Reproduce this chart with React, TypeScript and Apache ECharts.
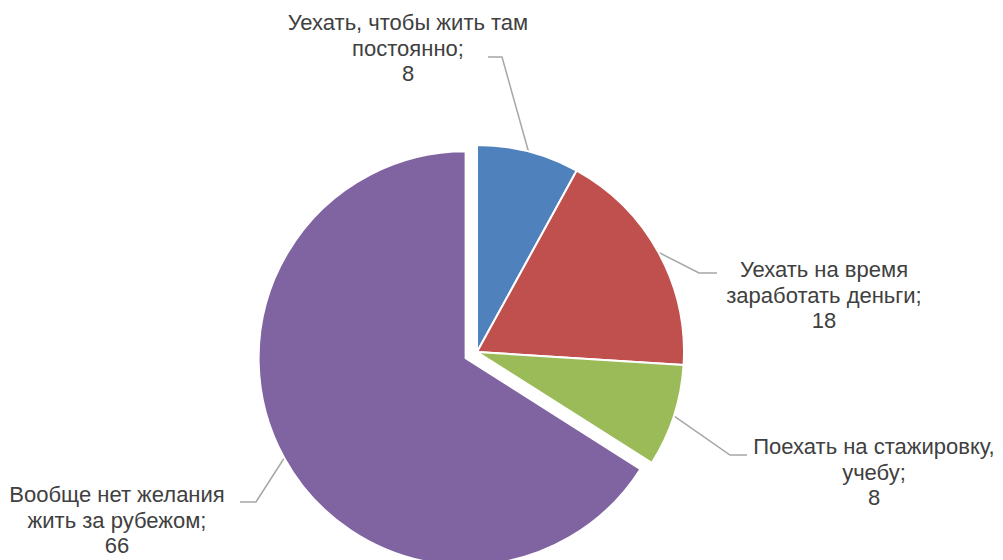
import React, { useEffect, useRef } from "react";
import * as echarts from "echarts";

const categories = [
  "Уехать, чтобы жить там\nпостоянно",
  "Уехать на время\nзаработать деньги",
  "Поехать на стажировку,\nучебу",
  "Вообще нет желания\nжить за рубежом",
];
const values = [8, 18, 8, 66];
const colors = ["#4F81BD", "#C0504D", "#9BBB59", "#8064A2"];
const explodedIndex = 3;

// label layout (anchor = center-top of label block), leader elbow and end
const labelAnchors = [
  [408, 10],
  [824, 257],
  [874, 434],
  [117, 482],
];
const leaderElbows = [
  [502, 57],
  [699, 273],
  [730, 455],
  [256, 502],
];
const leaderEnds = [
  [488, 57],
  [717, 273],
  [747, 455],
  [240, 502],
];

const CX = 477;
const CY = 352;
const R = 207;
const OFFSET = 13;

export default function App() {
  const ref = useRef<HTMLDivElement>(null);
  useEffect(() => {
    document.body.style.margin = "0";
    const chart = echarts.init(ref.current!, null, { renderer: "svg" });
    const total = values.reduce((a, b) => a + b, 0);
    const midAngle = (i: number) => {
      let before = 0;
      for (let k = 0; k < i; k++) before += values[k];
      return ((before + values[i] / 2) / total) * Math.PI * 2;
    };
    const em = midAngle(explodedIndex);
    const ex = CX + Math.sin(em) * OFFSET;
    const ey = CY - Math.cos(em) * OFFSET;
    const edgePoint = (i: number) => {
      const mid = midAngle(i);
      const off = i === explodedIndex ? OFFSET : 0;
      return [CX + Math.sin(mid) * (R + off), CY - Math.cos(mid) * (R + off)];
    };
    const common = {
      type: "pie",
      radius: R,
      startAngle: 90,
      clockwise: true,
      silent: true,
      avoidLabelOverlap: false,
      emphasis: { disabled: true },
    };
    chart.setOption({
      animation: false,
      backgroundColor: "#ffffff",
      series: [
        {
          ...common,
          center: [CX, CY],
          label: {
            show: true,
            position: "outside",
            alignTo: "none",
            formatter: "{b};\n{c}",
            color: "#404040",
            fontFamily: "Liberation Sans",
            fontSize: 22,
            lineHeight: 25.5,
            align: "center",
          },
          labelLine: {
            show: true,
            lineStyle: { color: "#A6A6A6", width: 1.5 },
          },
          labelLayout: (params: any) => {
            const i = params.dataIndex;
            return {
              x: labelAnchors[i][0],
              y: labelAnchors[i][1],
              align: "center",
              verticalAlign: "top",
              labelLinePoints: [edgePoint(i), leaderElbows[i], leaderEnds[i]],
            };
          },
          data: categories.map((name, i) => ({
            name,
            value: values[i],
            itemStyle:
              i === explodedIndex
                ? { color: "rgba(0,0,0,0)", borderWidth: 0 }
                : { color: colors[i], borderColor: "#ffffff", borderWidth: 2 },
          })),
        },
        {
          ...common,
          center: [ex, ey],
          label: { show: false },
          labelLine: { show: false },
          data: categories.map((name, i) => ({
            name,
            value: values[i],
            itemStyle:
              i === explodedIndex
                ? { color: colors[i], borderColor: "#ffffff", borderWidth: 2 }
                : { color: "rgba(0,0,0,0)", borderWidth: 0 },
          })),
        },
      ],
    });
    return () => chart.dispose();
  }, []);
  return (
    <div
      ref={ref}
      style={{ position: "absolute", left: 0, top: 0, width: 1003, height: 560 }}
    />
  );
}
